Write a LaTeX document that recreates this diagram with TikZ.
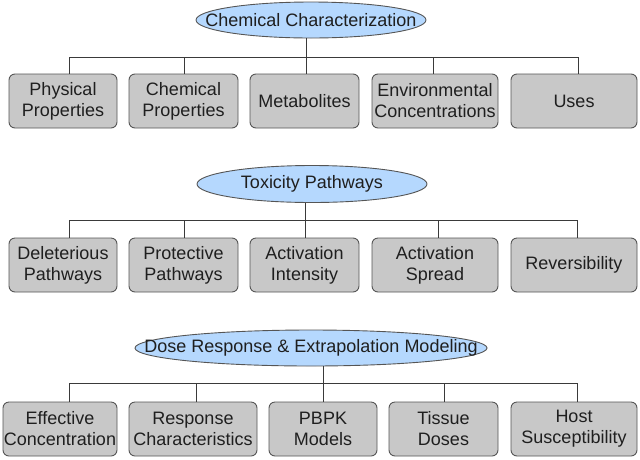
\documentclass[tikz,border=0pt]{standalone}
\usepackage{fontspec}
\setmainfont{Liberation Sans}
\usetikzlibrary{shapes.geometric}
\definecolor{ellfill}{HTML}{B5D8FE}
\definecolor{boxfill}{HTML}{C8C8C8}
\definecolor{edgec}{HTML}{555555}
\definecolor{linkc}{HTML}{3A3A3A}
\begin{document}
\begin{tikzpicture}[x=1pt,y=-1pt,
  every node/.style={font=\fontsize{18}{21}\selectfont, text=black!88},
  box/.style={draw=edgec, fill=boxfill, rounded corners=6pt, minimum height=54pt, inner sep=0pt, align=center, line width=0.9pt},
  head/.style={ellipse, draw=edgec, fill=ellfill, inner sep=0pt, line width=0.9pt},
  headtext/.style={inner sep=0pt},
  link/.style={draw=linkc, line width=0.9pt}]
\useasboundingbox (0,0) rectangle (640,459);

% ---------- Row 1 ----------
\node[head, minimum width=230pt, minimum height=36pt] (e1) at (311,20) {};
\node[headtext] (t1) at (e1.center) {Chemical Characterization};
\node[box, minimum width=108pt] (b11) at (63,101) {Physical\\Properties};
\node[box, minimum width=109pt] (b12) at (183.5,101) {Chemical\\Properties};
\node[box, minimum width=109pt] (b13) at (304.5,101) {Metabolites};
\node[box, minimum width=126pt] (b14) at (435,101) {Environmental\\Concentrations};
\node[box, minimum width=126pt] (b15) at (574,101) {Uses};
\coordinate (j1) at (306,57);
\coordinate (d11) at (69,57);
\coordinate (d12) at (184,57);
\coordinate (d13) at (306,57);
\coordinate (d14) at (433,57);
\coordinate (d15) at (578,57);
\draw[link] (e1.south -| j1) -- (j1);
\draw[link] (d11) -- (d15);
\draw[link] (b11.north -| d11) -- (d11);
\draw[link] (b12.north -| d12) -- (d12);
\draw[link] (b13.north -| d13) -- (d13);
\draw[link] (b14.north -| d14) -- (d14);
\draw[link] (b15.north -| d15) -- (d15);

% ---------- Row 2 ----------
\node[head, minimum width=230pt, minimum height=37pt] (e2) at (312,184) {};
\node[headtext] (t2) at (e2.center) {Toxicity Pathways};
\node[box, minimum width=108pt] (b21) at (63,265) {Deleterious\\Pathways};
\node[box, minimum width=109pt] (b22) at (183.5,265) {Protective\\Pathways};
\node[box, minimum width=109pt] (b23) at (304.5,265) {Activation\\Intensity};
\node[box, minimum width=126pt] (b24) at (435,265) {Activation\\Spread};
\node[box, minimum width=126pt] (b25) at (574,265) {Reversibility};
\coordinate (j2) at (305,220);
\coordinate (d21) at (69,220);
\coordinate (d22) at (184,220);
\coordinate (d23) at (305,220);
\coordinate (d24) at (438,220);
\coordinate (d25) at (577,220);
\draw[link] (e2.south -| j2) -- (j2);
\draw[link] (d21) -- (d25);
\draw[link] (b21.north -| d21) -- (d21);
\draw[link] (b22.north -| d22) -- (d22);
\draw[link] (b23.north -| d23) -- (d23);
\draw[link] (b24.north -| d24) -- (d24);
\draw[link] (b25.north -| d25) -- (d25);

% ---------- Row 3 ----------
\node[head, minimum width=352pt, minimum height=36pt] (e3) at (311,348) {};
\node[headtext] (t3) at (e3.center) {Dose Response \& Extrapolation Modeling};
\node[box, minimum width=114pt] (b31) at (60,429) {Effective\\Concentration};
\node[box, minimum width=128pt] (b32) at (193,429) {Response\\Characteristics};
\node[box, minimum width=108pt] (b33) at (323,429) {PBPK\\Models};
\node[box, minimum width=109pt] (b34) at (443.5,429) {Tissue\\Doses};
\node[box, minimum width=126pt] (b35) at (574,429) {Host\\Susceptibility};
\coordinate (j3) at (323,383);
\coordinate (d31) at (69,383);
\coordinate (d32) at (196,383);
\coordinate (d33) at (323,383);
\coordinate (d34) at (444,383);
\coordinate (d35) at (577,383);
\draw[link] (e3.south -| j3) -- (j3);
\draw[link] (d31) -- (d35);
\draw[link] (b31.north -| d31) -- (d31);
\draw[link] (b32.north -| d32) -- (d32);
\draw[link] (b33.north -| d33) -- (d33);
\draw[link] (b34.north -| d34) -- (d34);
\draw[link] (b35.north -| d35) -- (d35);
\end{tikzpicture}
\end{document}
